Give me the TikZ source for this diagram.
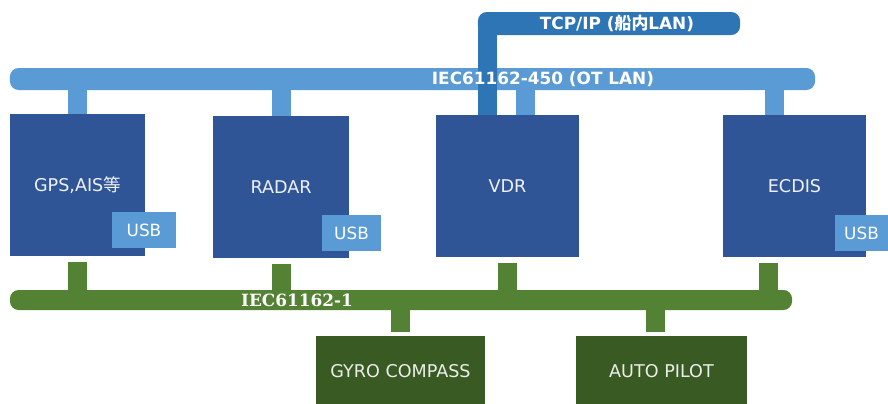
\documentclass[tikz,border=0pt]{standalone}
\usepackage{fontspec}
\setmainfont{DejaVu Sans}
\newfontfamily\jpfont{Noto Sans CJK JP}
\newfontfamily\serfont{DejaVu Serif}
\usepackage{tikz}
\usetikzlibrary{positioning, calc}
\definecolor{otlan}{HTML}{5B9BD5}
\definecolor{shiplan}{HTML}{2E75B6}
\definecolor{device}{HTML}{2F5597}
\definecolor{serial}{HTML}{548235}
\definecolor{sensor}{HTML}{3A5A24}

\begin{document}
\begin{tikzpicture}[
    x=0.025cm, y=-0.025cm,
    unit/.style={fill=device, text=white!92!device, font=\fontsize{12.5}{14}\selectfont,
                 minimum height=3.55cm, inner sep=0pt},
    usb/.style={fill=otlan, text=white, font=\fontsize{12}{14}\selectfont,
                minimum height=0.9cm, inner sep=0pt},
    sensorbox/.style={fill=sensor, text=white!90!sensor, font=\fontsize{12.5}{14}\selectfont,
                      minimum height=1.75cm, inner sep=0pt},
    bus/.style={rounded corners=0.22cm, inner sep=0pt},
    buslbl/.style={text=white, font=\fontsize{12}{14}\selectfont\bfseries, inner sep=0pt},
    otstub/.style={line width=0.475cm, otlan},
    tcpstub/.style={line width=0.475cm, shiplan},
    serstub/.style={line width=0.475cm, serial}
]
  \useasboundingbox (0,0) rectangle (888,403);

  \node[bus, fill=otlan, minimum width=20.125cm, minimum height=0.55cm] (ot) at (412.5,79) {};
  \node[bus, fill=shiplan, minimum width=6.55cm, minimum height=0.575cm] (tcp) at (609,23.5) {};
  \node[bus, fill=serial, minimum width=19.55cm, minimum height=0.5cm] (ser) at (401,300) {};

  \node[unit, minimum width=3.375cm] (gps) at (77.5,185) {GPS,AIS{\jpfont 等}};
  \node[unit, minimum width=3.4cm] (radar) at (281,187) {RADAR};
  \node[unit, minimum width=3.575cm] (vdr) at (507.5,186) {VDR};
  \node[unit, minimum width=3.575cm] (ecdis) at (794.5,186) {ECDIS};

  \node[usb, minimum width=1.6cm] (gpsusb) at (144,230) {USB};
  \node[usb, minimum width=1.475cm] (radarusb) at (351.5,233) {USB};
  \node[usb, minimum width=1.35cm] (ecdisusb) at (861.5,233) {USB};

  \node[sensorbox, minimum width=4.225cm] (gyro) at (400.5,371) {GYRO COMPASS};
  \node[sensorbox, minimum width=4.275cm] (pilot) at (661.5,371) {AUTO PILOT};

  \draw[otstub] (gps.north) -- (gps.north |- ot.center);
  \draw[otstub] (radar.north) -- (radar.north |- ot.center);
  \draw[otstub] ([xshift=0.44cm]vdr.north) -- ([xshift=0.44cm]vdr.north |- ot.center);
  \draw[otstub] ([xshift=-0.51cm]ecdis.north) -- ([xshift=-0.51cm]ecdis.north |- ot.center);
  \draw[tcpstub] ([xshift=-0.51cm]vdr.north) -- ([xshift=-0.51cm]vdr.north |- tcp.center);

  \draw[serstub] ([yshift=-0.13cm]gps.south) -- (gps.south |- ser.center);
  \draw[serstub] ([yshift=-0.13cm]radar.south) -- (radar.south |- ser.center);
  \draw[serstub] ([yshift=-0.13cm]vdr.south) -- (vdr.south |- ser.center);
  \draw[serstub] ([xshift=-0.64cm, yshift=-0.13cm]ecdis.south) -- ([xshift=-0.64cm]ecdis.south |- ser.center);
  \draw[serstub, shorten >=0.1cm] (gyro.north |- ser.center) -- (gyro.north);
  \draw[serstub, shorten >=0.1cm] ([xshift=-0.16cm]pilot.north |- ser.center) -- ([xshift=-0.16cm]pilot.north);

  \node[buslbl] (otlbl) at (543,79) {IEC61162-450 (OT LAN)};
  \node[buslbl] (tcplbl) at (617,23.5) {TCP/IP ({\jpfont 船内}LAN)};
  \node[buslbl, font=\fontsize{12}{14}\selectfont\serfont\bfseries] (serlbl) at (297,300) {IEC61162-1};
\end{tikzpicture}
\end{document}
